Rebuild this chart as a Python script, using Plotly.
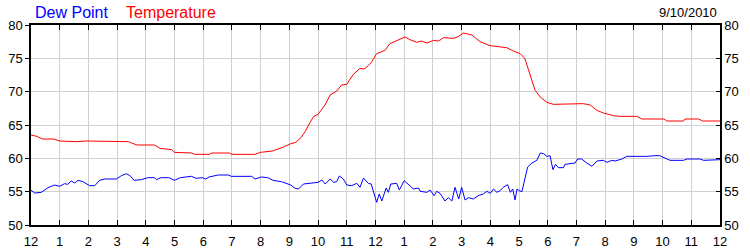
import plotly.graph_objects as go

# ---- data (hours since midnight, degrees F) ----
temp_hours = [0.0, 0.2, 0.4, 0.8, 1.0, 1.6, 1.9, 2.1, 2.3, 3.4, 3.5, 3.7, 4.3, 4.5, 4.9, 5.0, 5.6, 5.7,
              6.2, 6.3, 6.9, 7.0, 7.8, 8.0, 8.4, 8.6, 8.8, 9.05, 9.22, 9.4, 9.55, 9.72, 9.85, 10.0, 10.1,
              10.24, 10.42, 10.65, 10.82, 11.0, 11.1, 11.23, 11.46, 11.6, 11.75, 11.87, 12.04, 12.33,
              12.5, 12.8, 13.03, 13.2, 13.44, 13.6, 13.79, 14.02, 14.2, 14.37, 14.72, 14.9, 15.06,
              15.36, 15.64, 15.99, 16.57, 16.8, 17.04, 17.2, 17.39, 17.56, 17.74, 17.97, 18.2, 18.65,
              18.84, 19.24, 19.48, 19.71, 19.94, 20.29, 20.5, 21.1, 21.28, 22.05, 22.15, 22.73, 22.78,
              23.25, 23.4, 24.0]
temp_values = [63.5, 63.3, 62.9, 62.9, 62.6, 62.5, 62.6, 62.6, 62.5, 62.5, 62.3, 62.0, 62.0, 61.5, 61.3,
               60.9, 60.8, 60.6, 60.6, 60.8, 60.8, 60.6, 60.6, 60.9, 61.1, 61.4, 61.7, 62.2, 62.4, 63.1,
               64.0, 65.4, 66.3, 66.6, 67.2, 68.0, 69.5, 70.1, 71.0, 71.1, 71.8, 72.6, 73.5, 73.4, 73.9,
               74.5, 75.7, 76.2, 77.2, 77.7, 78.2, 77.8, 77.4, 77.6, 77.3, 77.7, 77.6, 78.1, 78.0, 78.3,
               78.8, 78.5, 77.5, 76.9, 76.6, 76.1, 75.7, 75.0, 72.5, 70.2, 69.2, 68.4, 68.1, 68.1, 68.2,
               68.2, 68.0, 67.2, 66.8, 66.4, 66.3, 66.3, 65.9, 65.9, 65.6, 65.6, 65.9, 65.9, 65.6, 65.6]

dew_hours = [0.0, 0.13, 0.36, 0.59, 0.82, 1.0, 1.17, 1.28, 1.4, 1.52, 1.64, 1.81, 2.04, 2.22, 2.39, 2.57,
             2.97, 3.15, 3.32, 3.45, 3.59, 3.84, 4.07, 4.3, 4.37, 4.53, 4.8, 5.0, 5.2, 5.59, 5.75, 5.97,
             6.08, 6.2, 6.52, 6.87, 6.98, 7.69, 7.8, 8.03, 8.25, 8.43, 8.72, 9.05, 9.2, 9.32, 9.49, 9.6,
             9.72, 9.85, 10.0, 10.13, 10.25, 10.42, 10.54, 10.65, 10.74, 10.88, 11.0, 11.17, 11.35,
             11.46, 11.58, 11.75, 11.85, 12.04, 12.13, 12.22, 12.37, 12.45, 12.53, 12.74, 12.83, 13.0,
             13.2, 13.32, 13.5, 13.56, 13.79, 13.9, 14.04, 14.13, 14.25, 14.42, 14.54, 14.66, 14.77,
             14.9, 15.0, 15.12, 15.24, 15.41, 15.58, 15.75, 15.88, 16.0, 16.11, 16.23, 16.34, 16.45,
             16.6, 16.7, 16.78, 16.86, 16.93, 17.0, 17.1, 17.21, 17.3, 17.45, 17.62, 17.74, 17.85,
             17.97, 18.08, 18.18, 18.27, 18.37, 18.55, 18.6, 18.85, 18.95, 19.04, 19.18, 19.36, 19.54,
             19.71, 19.94, 20.06, 20.23, 20.35, 20.58, 20.75, 21.0, 21.2, 21.45, 21.74, 21.9, 22.05,
             22.26, 22.73, 22.85, 23.3, 23.43, 24.0]
dew_values = [55.2, 54.8, 54.9, 55.6, 56.0, 55.8, 56.2, 56.1, 56.6, 56.3, 56.7, 56.5, 55.9, 55.9, 56.7,
              56.9, 56.9, 57.4, 57.7, 57.4, 56.7, 56.8, 57.1, 57.1, 56.8, 57.1, 57.1, 56.7, 57.1, 57.3,
              57.0, 57.1, 56.9, 57.2, 57.5, 57.5, 57.3, 57.3, 56.9, 57.2, 57.1, 56.7, 56.5, 56.0, 55.5,
              55.4, 56.15, 56.2, 56.35, 56.3, 56.4, 56.75, 56.15, 56.9, 56.4, 56.5, 57.35, 56.9, 56.0,
              55.9, 56.25, 55.65, 57.05, 56.25, 56.15, 53.4, 54.65, 53.6, 55.55, 54.9, 56.15, 56.25,
              55.25, 56.65, 55.9, 55.4, 55.55, 55.05, 54.9, 55.25, 54.4, 55.05, 54.75, 53.6, 54.1, 53.6,
              55.65, 53.9, 55.65, 53.75, 54.1, 53.9, 54.4, 54.65, 55.05, 54.75, 55.4, 54.9, 55.15, 55.65,
              56.05, 54.9, 55.4, 53.75, 55.4, 55.15, 55.0, 57.2, 58.7, 59.3, 59.7, 60.8, 60.7, 60.3,
              60.4, 58.3, 59.1, 58.6, 58.6, 59.1, 59.2, 59.3, 59.9, 59.9, 59.3, 58.8, 59.6, 59.7, 59.4,
              59.7, 59.6, 59.9, 60.3, 60.3, 60.2, 60.3, 60.4, 60.4, 60.1, 59.7, 59.7, 59.9, 59.9, 59.7,
              59.8]

hour_ticks = list(range(0, 25))
hour_labels = ["12"] + [str(h) for h in range(1, 12)] + ["12"] + [str(h) for h in range(1, 12)] + ["12"]
y_ticks = [50, 55, 60, 65, 70, 75, 80]

FONT = "Liberation Sans, Arial, sans-serif"

fig = go.Figure()
fig.add_trace(go.Scatter(x=temp_hours, y=temp_values, mode="lines",
                         line=dict(color="#ff0000", width=1), name="Temperature"))
fig.add_trace(go.Scatter(x=dew_hours, y=dew_values, mode="lines",
                         line=dict(color="#0000ff", width=1), name="Dew Point"))
# invisible trace to activate the right-side axis
fig.add_trace(go.Scatter(x=[0], y=[50], yaxis="y2", mode="markers",
                         marker=dict(opacity=0), showlegend=False, hoverinfo="skip"))

fig.update_layout(
    width=750, height=250,
    margin=dict(l=31, r=30, t=25, b=25, autoexpand=False),
    paper_bgcolor="white", plot_bgcolor="white",
    showlegend=False,
    font=dict(family=FONT, size=13, color="#000000"),
    xaxis=dict(range=[0, 24], tickvals=hour_ticks, ticktext=hour_labels,
               showgrid=True, gridcolor="#d0d0d0", gridwidth=1,
               showline=True, linecolor="black", linewidth=1.5, mirror="ticks",
               ticks="inside", ticklen=5, tickcolor="black", tickwidth=1,
               zeroline=False, tickfont=dict(size=13), automargin=False,
               ticklabelstandoff=4),
    yaxis=dict(range=[50, 80], tickvals=y_ticks, showgrid=True, gridcolor="#d0d0d0", gridwidth=1,
               showline=True, linecolor="black", linewidth=1.5,
               ticks="outside", ticklen=4, tickcolor="black", zeroline=False,
               tickfont=dict(size=13), automargin=False),
    yaxis2=dict(range=[50, 80], tickvals=y_ticks, overlaying="y", side="right",
                showgrid=False, showline=True, linecolor="black", linewidth=1.5,
                ticks="inside", ticklen=4, tickcolor="black", zeroline=False,
                tickfont=dict(size=13), automargin=False),
    annotations=[
        dict(text="Dew Point", xref="paper", yref="paper", x=(33 - 31) / 689, y=1 + 13 / 200,
             xanchor="left", yanchor="middle", showarrow=False,
             font=dict(family=FONT, size=16, color="#0000ff")),
        dict(text="Temperature", xref="paper", yref="paper", x=(124 - 31) / 689, y=1 + 13 / 200,
             xanchor="left", yanchor="middle", showarrow=False,
             font=dict(family=FONT, size=16, color="#ff0000")),
        dict(text="9/10/2010", xref="paper", yref="paper", x=(719 - 31) / 689, y=1 + 12 / 200,
             xanchor="right", yanchor="middle", showarrow=False,
             font=dict(family=FONT, size=13, color="#000000")),
    ],
)

fig.write_html("out.html")
